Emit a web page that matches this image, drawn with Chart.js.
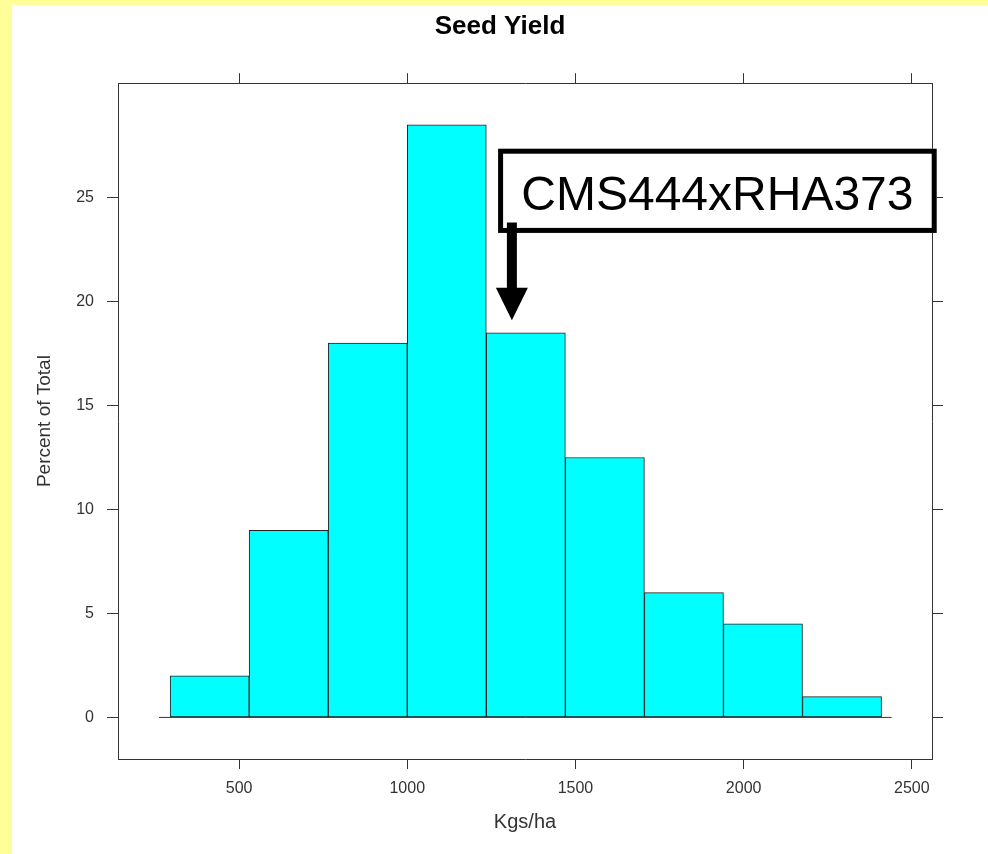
<!DOCTYPE html>
<html>
<head>
<meta charset="utf-8">
<script src="https://cdn.jsdelivr.net/npm/chart.js@4/dist/chart.umd.min.js"></script>
<style>
  body { margin: 0; background: #ffff99; }
  #wrap { position: absolute; left: 12px; top: 5px; width: 976px; height: 849px; background: #fff; }
</style>
</head>
<body>
<div id="wrap"><canvas id="hist" width="976" height="849"></canvas></div>
<script>
// histogram bins (Kgs/ha) and percent of total per bin
const binEdges = [295, 530, 765, 1000, 1235, 1470, 1705, 1940, 2175, 2410];
const percents = [2, 9, 18, 28.5, 18.5, 12.5, 6, 4.5, 1];
const xTicks = [500, 1000, 1500, 2000, 2500];
const yTicks = [0, 5, 10, 15, 20, 25];
const baseLine = [262, 2440];

// annotation, in data units
const noteText = "CMS444xRHA373";
const noteBox = { x0: 1270, x1: 2574, y0: 23.3, y1: 27.35 };
const noteArrow = { x: 1311, yFrom: 23.8, yHead: 20.66, yTip: 19.1 };

const FONT = "'Liberation Sans', Arial, Helvetica, sans-serif";
const AXIS = "#333";

const barData = percents.map((p, i) => ({ x: (binEdges[i] + binEdges[i + 1]) / 2, y: p }));

function setTicks(list) {
  return (scale) => {
    scale.ticks = list.map((v) => ({ value: v }));
  };
}

function fixSize(prop, size) {
  return (scale) => {
    scale[prop] = size;
  };
}

function axisCommon(extra) {
  return Object.assign({
    type: "linear",
    offset: false,
    grid: { offset: false, drawOnChartArea: false, drawTicks: true, tickLength: 10, color: AXIS, lineWidth: 1 },
    border: { display: true, color: AXIS, width: 1 },
  }, extra);
}

const notePlugin = {
  id: "note",
  afterDraw(chart) {
    const { ctx } = chart;
    const xs = chart.scales.x;
    const ys = chart.scales.y;
    const l = xs.getPixelForValue(noteBox.x0);
    const r = xs.getPixelForValue(noteBox.x1);
    const t = ys.getPixelForValue(noteBox.y1);
    const b = ys.getPixelForValue(noteBox.y0);
    ctx.save();
    ctx.fillStyle = "#fff";
    ctx.fillRect(l, t, r - l, b - t);
    ctx.lineWidth = 5;
    ctx.strokeStyle = "#000";
    ctx.strokeRect(l + 2.5, t + 2.5, r - l - 5, b - t - 5);

    ctx.fillStyle = "#000";
    ctx.font = "48px " + FONT;
    ctx.textAlign = "center";
    ctx.textBaseline = "alphabetic";
    ctx.fillText(noteText, (l + r) / 2, (t + b) / 2 + 0.716 * 48 / 2 + 2);

    const ax = xs.getPixelForValue(noteArrow.x);
    const y0 = ys.getPixelForValue(noteArrow.yFrom);
    const yh = ys.getPixelForValue(noteArrow.yHead);
    const yt = ys.getPixelForValue(noteArrow.yTip);
    ctx.fillRect(ax - 5, y0, 10, yh - y0 + 1);
    ctx.beginPath();
    ctx.moveTo(ax - 16, yh);
    ctx.lineTo(ax + 16, yh);
    ctx.lineTo(ax, yt);
    ctx.closePath();
    ctx.fill();
    ctx.restore();
  },
};

new Chart(document.getElementById("hist"), {
  type: "bar",
  data: {
    datasets: [
      {
        type: "line",
        data: baseLine.map((x) => ({ x, y: 0 })),
        borderColor: AXIS,
        borderWidth: 1,
        pointRadius: 0,
        order: 0,
      },
      {
        data: barData,
        backgroundColor: "#00ffff",
        borderColor: "#222",
        borderWidth: 1,
        borderSkipped: false,
        barPercentage: 1,
        categoryPercentage: 1,
        order: 1,
      },
    ],
  },
  options: {
    responsive: false,
    animation: false,
    layout: { padding: 0 },
    plugins: {
      legend: { display: false },
      tooltip: { enabled: false },
      title: {
        display: true,
        text: "Seed Yield",
        color: "#000",
        font: { family: FONT, size: 26, weight: "bold" },
        padding: { top: 6, bottom: 8 },
      },
    },
    scales: {
      x: axisCommon({
        position: "bottom",
        min: 140,
        max: 2560,
        afterBuildTicks: setTicks(xTicks),
        afterFit: fixSize("height", 95),
        ticks: { color: AXIS, font: { family: FONT, size: 16 }, padding: 10, maxRotation: 0, callback: (v) => String(v) },
        title: { display: true, text: "Kgs/ha", color: AXIS, font: { family: FONT, size: 20 }, padding: { top: 0, bottom: 20 } },
      }),
      x2: axisCommon({
        position: "top",
        min: 140,
        max: 2560,
        afterBuildTicks: setTicks(xTicks),
        afterFit: fixSize("height", 33),
        ticks: { display: false },
      }),
      y: axisCommon({
        position: "left",
        min: -2,
        max: 30.5,
        afterBuildTicks: setTicks(yTicks),
        afterFit: fixSize("width", 106),
        grid: { offset: false, drawOnChartArea: false, drawTicks: true, tickLength: 11, color: AXIS, lineWidth: 1 },
        ticks: { color: AXIS, font: { family: FONT, size: 16 }, padding: 13, callback: (v) => String(v) },
        title: { display: true, text: "Percent of Total", color: AXIS, font: { family: FONT, size: 19 }, padding: { top: 21, bottom: 0 } },
      }),
      y2: axisCommon({
        position: "right",
        min: -2,
        max: 30.5,
        afterBuildTicks: setTicks(yTicks),
        afterFit: fixSize("width", 56),
        grid: { offset: false, drawOnChartArea: false, drawTicks: true, tickLength: 11, color: AXIS, lineWidth: 1 },
        ticks: { display: false },
      }),
    },
  },
  plugins: [notePlugin],
});
</script>
</body>
</html>
